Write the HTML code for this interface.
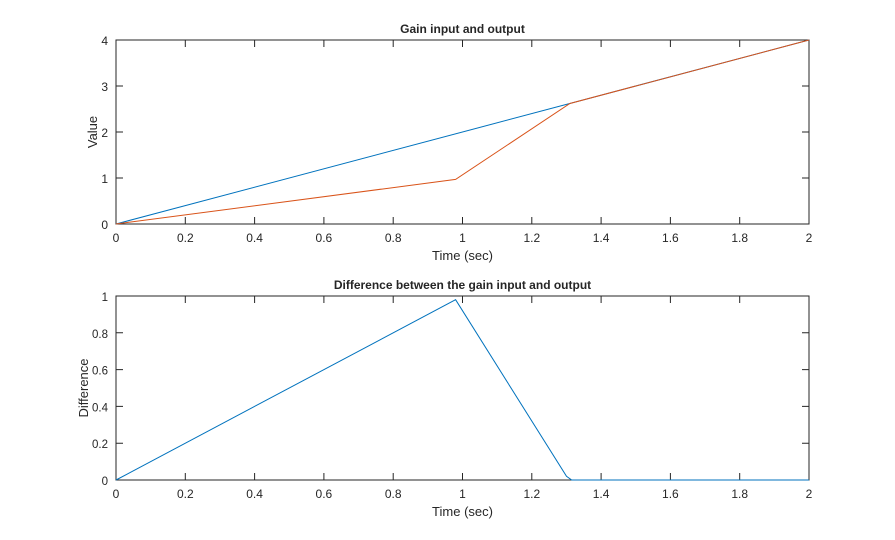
<!DOCTYPE html>
<html><head><style>body{margin:0;background:#fff}svg{display:block}text{font-family:"Liberation Sans",Arial,sans-serif;fill:#262626}</style></head><body>
<svg width="895" height="540" viewBox="0 0 895 540" xmlns="http://www.w3.org/2000/svg">
<g font-size="12" text-anchor="middle">
<!-- top axes -->
<rect x="116" y="40" width="693" height="184" fill="none" stroke="#262626" stroke-width="1"/>
<g stroke="#262626" stroke-width="1">
<path d="M185.3,224v-7M254.6,224v-7M323.9,224v-7M393.2,224v-7M462.5,224v-7M531.8,224v-7M601.1,224v-7M670.4,224v-7M739.7,224v-7"/>
<path d="M185.3,40v7M254.6,40v7M323.9,40v7M393.2,40v7M462.5,40v7M531.8,40v7M601.1,40v7M670.4,40v7M739.7,40v7"/>
<path d="M116,178h7M116,132h7M116,86h7M809,178h-7M809,132h-7M809,86h-7"/>
</g>
<g>
<text x="116" y="242">0</text><text x="185.3" y="242">0.2</text><text x="254.6" y="242">0.4</text><text x="323.9" y="242">0.6</text><text x="393.2" y="242">0.8</text><text x="462.5" y="242">1</text><text x="531.8" y="242">1.2</text><text x="601.1" y="242">1.4</text><text x="670.4" y="242">1.6</text><text x="739.7" y="242">1.8</text><text x="809" y="242">2</text>
</g>
<g text-anchor="end">
<text x="108" y="229">0</text><text x="108" y="183">1</text><text x="108" y="137">2</text><text x="108" y="91">3</text><text x="108" y="45">4</text>
</g>
<text x="462.5" y="260" font-size="13">Time (sec)</text>
<text transform="translate(97,132) rotate(-90)" font-size="13">Value</text>
<text x="462.5" y="33" font-weight="bold">Gain input and output</text>
<polyline points="116,224 809,40" fill="none" stroke="#0072BD" stroke-width="1"/>
<polyline points="116,224 455.6,179.4 569.9,103.5 809,40" fill="none" stroke="#D95319" stroke-width="1"/>

<!-- bottom axes -->
<rect x="116" y="296" width="693" height="184" fill="none" stroke="#262626" stroke-width="1"/>
<g stroke="#262626" stroke-width="1">
<path d="M185.3,480v-7M254.6,480v-7M323.9,480v-7M393.2,480v-7M462.5,480v-7M531.8,480v-7M601.1,480v-7M670.4,480v-7M739.7,480v-7"/>
<path d="M185.3,296v7M254.6,296v7M323.9,296v7M393.2,296v7M462.5,296v7M531.8,296v7M601.1,296v7M670.4,296v7M739.7,296v7"/>
<path d="M116,443.2h7M116,406.4h7M116,369.6h7M116,332.8h7M809,443.2h-7M809,406.4h-7M809,369.6h-7M809,332.8h-7"/>
</g>
<g>
<text x="116" y="498">0</text><text x="185.3" y="498">0.2</text><text x="254.6" y="498">0.4</text><text x="323.9" y="498">0.6</text><text x="393.2" y="498">0.8</text><text x="462.5" y="498">1</text><text x="531.8" y="498">1.2</text><text x="601.1" y="498">1.4</text><text x="670.4" y="498">1.6</text><text x="739.7" y="498">1.8</text><text x="809" y="498">2</text>
</g>
<g text-anchor="end" font-size="11.5">
<text x="108" y="485">0</text><text x="108" y="448.2">0.2</text><text x="108" y="411.4">0.4</text><text x="108" y="374.6">0.6</text><text x="108" y="337.8">0.8</text><text x="108" y="301">1</text>
</g>
<text transform="translate(88,388) rotate(-90)" font-size="13">Difference</text>
<text x="462.5" y="516" font-size="13">Time (sec)</text>
<text x="462.5" y="289" font-weight="bold">Difference between the gain input and output</text>
<polyline points="116,480 455.6,299.7 566.5,476.3 571.7,480 809,480" fill="none" stroke="#0072BD" stroke-width="1"/>
</g>
</svg>
</body></html>
